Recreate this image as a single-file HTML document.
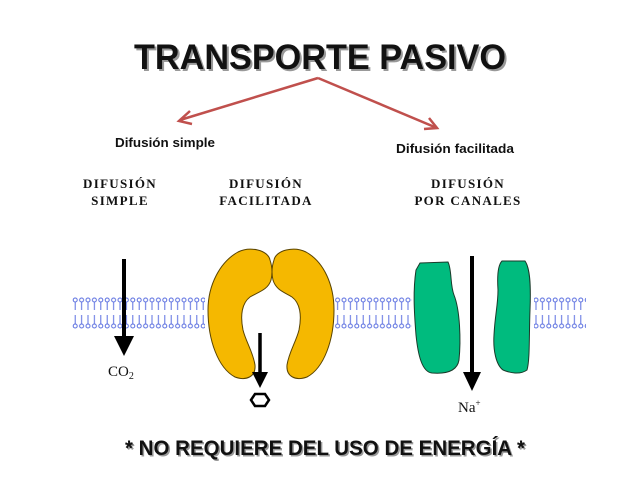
<!DOCTYPE html>
<html><head><style>
html,body{margin:0;padding:0;background:#fff;width:638px;height:479px;overflow:hidden}
</style></head><body>
<svg width="638" height="479" viewBox="0 0 638 479" xmlns="http://www.w3.org/2000/svg">
<defs>
<pattern id="lip" x="72" y="296" width="6.4" height="34" patternUnits="userSpaceOnUse">
<circle cx="3.2" cy="4" r="2" fill="#fff" stroke="#5b6fe0" stroke-width="1"/>
<line x1="3.2" y1="6" x2="3.2" y2="14" stroke="#5b6fe0" stroke-width="1"/>
<line x1="3.2" y1="19" x2="3.2" y2="28" stroke="#5b6fe0" stroke-width="1"/>
<circle cx="3.2" cy="30" r="2" fill="#fff" stroke="#5b6fe0" stroke-width="1"/>
</pattern>
</defs>
<text x="320" y="69" text-anchor="middle" font-family="Liberation Sans, sans-serif" font-weight="bold" font-size="35" fill="#999" textLength="372" lengthAdjust="spacingAndGlyphs" transform="translate(2,2)">TRANSPORTE PASIVO</text>
<text x="320" y="69" text-anchor="middle" font-family="Liberation Sans, sans-serif" font-weight="bold" font-size="35" fill="#111" textLength="372" lengthAdjust="spacingAndGlyphs">TRANSPORTE PASIVO</text>
<g stroke="#c0504d" stroke-width="2.5" fill="none">
<line x1="318" y1="78" x2="180" y2="120"/>
<polyline points="190,111 179,121 192,124"/>
<line x1="318" y1="78" x2="437" y2="128"/>
<polyline points="424,129 437,128 429,118"/>
</g>
<text x="115" y="147" font-family="Liberation Sans, sans-serif" font-weight="bold" font-size="13" fill="#111" textLength="100" lengthAdjust="spacingAndGlyphs">Difusión simple</text>
<text x="396" y="153" font-family="Liberation Sans, sans-serif" font-weight="bold" font-size="13" fill="#111" textLength="118" lengthAdjust="spacingAndGlyphs">Difusión facilitada</text>
<g font-family="Liberation Serif, serif" font-weight="bold" font-size="13" fill="#111" text-anchor="middle" letter-spacing="1.3">
<text x="120" y="188">DIFUSIÓN</text><text x="120" y="205">SIMPLE</text>
<text x="266" y="188">DIFUSIÓN</text><text x="266" y="205">FACILITADA</text>
<text x="468" y="188">DIFUSIÓN</text><text x="468" y="205">POR CANALES</text>
</g>
<rect x="72" y="296" width="514" height="34" fill="url(#lip)"/>
<!-- left arrow -->
<line x1="124" y1="259" x2="124" y2="340" stroke="#000" stroke-width="4"/>
<polygon points="114,336 134,336 124,356" fill="#000"/>
<text x="108" y="376" font-family="Liberation Serif, serif" font-size="15" fill="#111">CO<tspan font-size="10" dy="3">2</tspan></text>
<!-- yellow protein -->
<rect x="205" y="285" width="130" height="50" fill="#fff"/>
<path d="M270,260 C268,250 250,246 238,252 C220,262 208,285 208,310 C208,340 218,368 235,377 C246,381 256,377 255,365 C253,352 246,342 243,330 C240,315 242,303 250,297 C258,292 268,290 271,280 C273,272 272,266 270,260 Z" fill="#f5b800" stroke="#5a4400" stroke-width="1"/>
<path d="M274,260 C276,250 294,246 306,252 C324,262 334,285 334,310 C334,340 324,368 307,377 C296,381 286,377 287,365 C289,352 296,342 299,330 C302,315 300,303 292,297 C284,292 276,290 273,280 C271,272 272,266 274,260 Z" fill="#f5b800" stroke="#5a4400" stroke-width="1"/>
<line x1="260" y1="333" x2="260" y2="375" stroke="#000" stroke-width="3.5"/>
<polygon points="252,372 268,372 260,388" fill="#000"/>
<polygon points="251,400 255,394 265,394 269,400 265,406 255,406" fill="none" stroke="#000" stroke-width="2.5"/>
<!-- green channel -->
<rect x="412" y="290" width="122" height="45" fill="#fff"/>
<path d="M420,263 L448,262 C452,270 450,285 454,295 C460,310 461,340 459,360 C457,372 445,374 432,373 C422,372 418,355 416,335 C414,310 413,290 416,270 Z" fill="#00bb7e" stroke="#1a3a2a" stroke-width="1"/>
<path d="M502,261 L525,261 C530,268 531,285 530,310 C529,335 530,360 527,370 C520,375 510,373 503,370 C496,365 493,350 494,335 C495,315 498,305 498,290 C497,275 498,265 502,261 Z" fill="#00bb7e" stroke="#1a3a2a" stroke-width="1"/>
<line x1="472" y1="256" x2="472" y2="375" stroke="#000" stroke-width="4"/>
<polygon points="463,372 481,372 472,391" fill="#000"/>
<text x="458" y="412" font-family="Liberation Serif, serif" font-size="15" fill="#111">Na<tspan font-size="9" dy="-6">+</tspan></text>
<text x="325" y="455" text-anchor="middle" font-family="Liberation Sans, sans-serif" font-weight="bold" font-size="21" fill="#999" transform="translate(1.5,1.5)" textLength="400" lengthAdjust="spacingAndGlyphs">* NO REQUIERE DEL USO DE ENERGÍA *</text>
<text x="325" y="455" text-anchor="middle" font-family="Liberation Sans, sans-serif" font-weight="bold" font-size="21" fill="#111" textLength="400" lengthAdjust="spacingAndGlyphs">* NO REQUIERE DEL USO DE ENERGÍA *</text>
</svg>
</body></html>
